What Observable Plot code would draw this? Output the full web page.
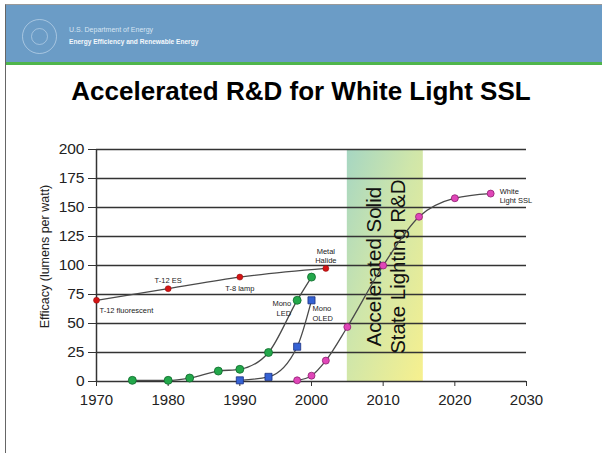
<!DOCTYPE html>
<html><head><meta charset="utf-8">
<script src="https://cdn.jsdelivr.net/npm/d3@7"></script>
<script src="https://cdn.jsdelivr.net/npm/@observablehq/plot@0.6"></script>
<style>
body{margin:0;background:#fff;font-family:Arial,"Liberation Sans",sans-serif;}
#slide{position:relative;width:602px;height:453px;overflow:hidden;background:#fff;}
#frame{position:absolute;left:5px;top:4px;right:-2px;bottom:-2px;border-left:1.5px solid #666;border-top:1px solid #999;}
#header{position:absolute;left:6px;top:5px;right:0;height:57px;background:#6b9cc6;}
#stripe{position:absolute;left:6px;top:62px;right:0;height:3px;background:#4fb54b;}
#logo{position:absolute;left:22px;top:19px;width:35px;height:35px;border-radius:50%;border:1.5px solid rgba(225,238,250,.5);box-sizing:border-box;}
#logo2{position:absolute;left:31px;top:28px;width:17px;height:17px;border-radius:50%;border:1px solid rgba(225,238,250,.45);box-sizing:border-box;}
#dept1{position:absolute;left:69px;top:26px;font-size:7px;color:#d6e4f2;white-space:nowrap;}
#dept2{position:absolute;left:69px;top:38px;font-size:6.6px;font-weight:bold;color:#f4f8fc;white-space:nowrap;}
#title{position:absolute;left:0;top:78px;width:602px;text-align:center;font-weight:bold;font-size:26px;line-height:1;color:#000;white-space:nowrap;}
#chart{position:absolute;left:0;top:130px;}
</style>
</head><body>
<div id="slide">
  <div id="header"></div>
  <div id="stripe"></div>
  <div id="frame"></div>
  <div id="logo"></div><div id="logo2"></div>
  <div id="dept1">U.S. Department of Energy</div>
  <div id="dept2">Energy Efficiency and Renewable Energy</div>
  <div id="title">Accelerated R&amp;D for White Light SSL</div>
  <div id="chart"></div>
</div>
<script>
// ---- data ----
const xTicks = [1970, 1980, 1990, 2000, 2010, 2020, 2030];
const yTicks = [0, 25, 50, 75, 100, 125, 150, 175, 200];
const yLabel = "Efficacy (lumens per watt)";

const fluorYears = [1970, 1980, 1990, 2002];
const fluorValues = [70, 80, 90, 97.5];

const ledYears = [1975, 1980, 1983, 1987, 1990, 1994, 1998, 2000];
const ledValues = [1, 1, 3, 9, 10.5, 25, 70, 90];

const oledYears = [1990, 1994, 1998, 2000];
const oledValues = [1, 4, 30, 70];

const sslYears = [1998, 2000, 2002, 2005, 2010, 2015, 2020, 2025];
const sslValues = [1, 5, 18, 47, 100, 142, 158, 162];

const bandStart = 2005, bandEnd = 2015.6;
const bandText = "Accelerated Solid\nState Lighting R&D";

// point labels, anchored to a data point
const labelTexts = ["T-12 fluorescent", "T-12 ES", "T-8 lamp", "Metal\nHalide", "Mono\nLED", "Mono\nOLED", "White\nLight SSL"];
const labelYears = [1970, 1980, 1990, 2002, 1998, 2000, 2025];
const labelValues = [70, 80, 90, 97.5, 70, 70, 162];

// ---- build ----
const zip = (xs, ys) => xs.map((x, i) => ({x, y: ys[i]}));
const fluor = zip(fluorYears, fluorValues);
const led = zip(ledYears, ledValues);
const oled = zip(oledYears, oledValues);
const ssl = zip(sslYears, sslValues);
const labels = labelTexts.map((t, i) => ({t, x: labelYears[i], y: labelValues[i]}));
const L = i => [labels[i]];

const lineStyle = {x: "x", y: "y", stroke: "#4a4a4a", strokeWidth: 1.3, curve: "monotone-x"};
const lblStyle = {x: "x", y: "y", text: "t", fontSize: 7.5, fill: "#222", lineHeight: 1.3};

const plot = Plot.plot({
  width: 602,
  height: 323,
  marginLeft: 96,
  marginRight: 76,
  marginTop: 19,
  marginBottom: 72,
  style: {fontFamily: "Arial, 'Liberation Sans', sans-serif", background: "transparent", overflow: "visible"},
  x: {domain: [1970, 2030]},
  y: {domain: [0, 200]},
  marks: [
    Plot.rect([{a: bandStart, b: bandEnd}], {x1: "a", x2: "b", y1: 0, y2: 200, fill: "url(#sslGrad)"}),
    Plot.ruleY(yTicks, {stroke: "#333", strokeWidth: 1.6}),
    Plot.ruleX([1970], {stroke: "#333", strokeWidth: 1.5}),
    Plot.axisY({ticks: yTicks, tickSize: 8, tickPadding: 4, fontSize: 15.5, fill: "#222", stroke: "#333", label: null}),
    Plot.axisX({ticks: xTicks, tickSize: 5, tickPadding: 8, fontSize: 15, fill: "#222", stroke: "#333", label: null, tickFormat: d => String(d)}),
    Plot.text([yLabel], {frameAnchor: "left", textAnchor: "middle", dx: -52, dy: -9, rotate: -90, fontSize: 12.5, fill: "#222"}),
    Plot.text([{t: bandText}], {x: () => (bandStart + bandEnd) / 2, y: () => 99, text: "t", rotate: -90, fontSize: 20.5, lineHeight: 1.17, fill: "#111"}),
    Plot.line(fluor, lineStyle),
    Plot.line(led, lineStyle),
    Plot.line(oled, lineStyle),
    Plot.line(ssl, lineStyle),
    Plot.dot(fluor, {x: "x", y: "y", r: 3, fill: "#d41414", stroke: "#8a0a0a", strokeWidth: 0.5}),
    Plot.dot(led, {x: "x", y: "y", r: 4, fill: "#23a84b", stroke: "#0f6a2c", strokeWidth: 0.8}),
    Plot.dot(oled, {x: "x", y: "y", r: 4, symbol: "square", fill: "#3562d4", stroke: "#1b3080", strokeWidth: 0.8}),
    Plot.dot(ssl, {x: "x", y: "y", r: 3.5, fill: "#e046b8", stroke: "#8e2070", strokeWidth: 0.8}),
    Plot.text(L(0), {...lblStyle, textAnchor: "start", dx: 3, dy: 10}),
    Plot.text(L(1), {...lblStyle, dy: -9}),
    Plot.text(L(2), {...lblStyle, dy: 11}),
    Plot.text(L(3), {...lblStyle, lineAnchor: "bottom", dy: -5}),
    Plot.text(L(4), {...lblStyle, textAnchor: "end", lineAnchor: "top", dx: -6, dy: -1}),
    Plot.text(L(5), {...lblStyle, textAnchor: "start", lineAnchor: "top", dx: 1, dy: 4}),
    Plot.text(L(6), {...lblStyle, textAnchor: "start", lineAnchor: "top", dx: 9, dy: -7})
  ]
});

const svg = d3.select(plot);
const defs = svg.insert("defs", ":first-child");
const g = defs.append("linearGradient").attr("id", "sslGrad")
  .attr("x1", "0").attr("y1", "0").attr("x2", "1").attr("y2", "1");
g.append("stop").attr("offset", "0%").attr("stop-color", "#a6d6c2");
g.append("stop").attr("offset", "45%").attr("stop-color", "#cfe6aa");
g.append("stop").attr("offset", "100%").attr("stop-color", "#f7f08e");

document.getElementById("chart").appendChild(plot);
</script>
</body></html>
